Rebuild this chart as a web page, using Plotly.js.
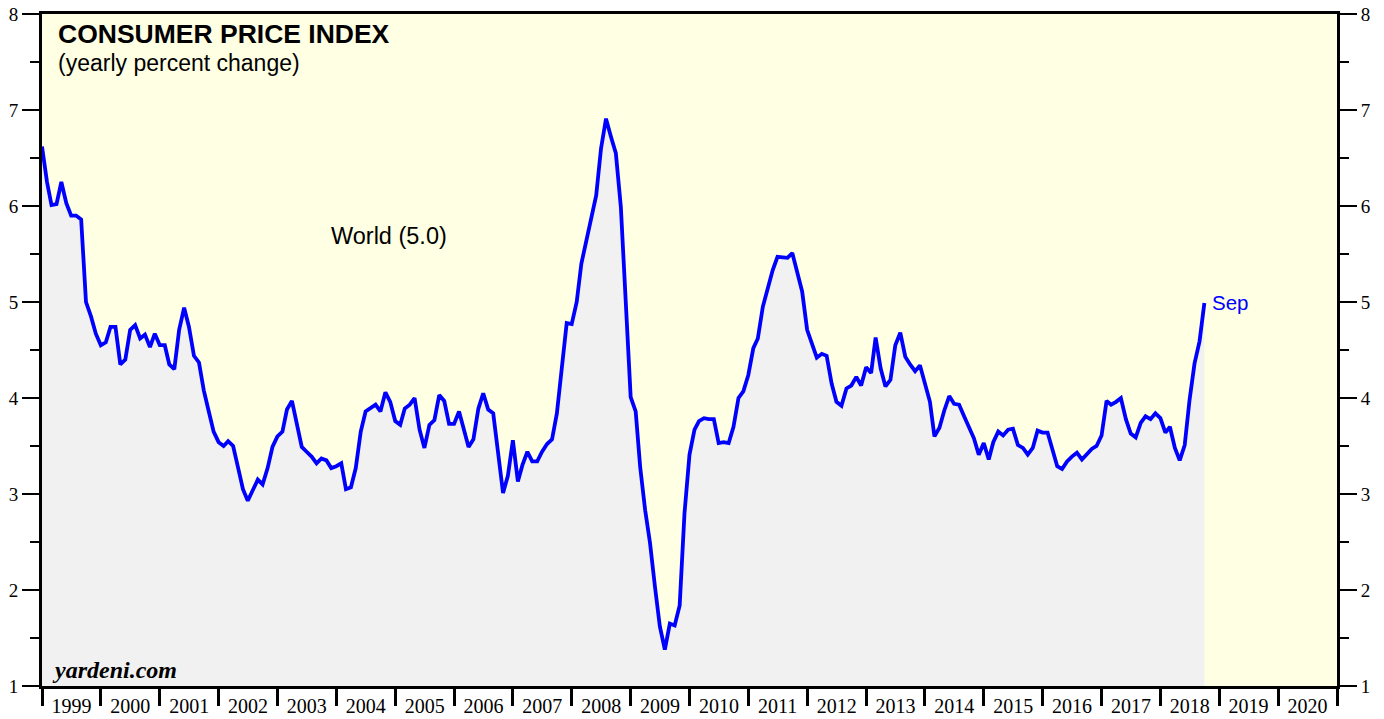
<!DOCTYPE html>
<html>
<head>
<meta charset="utf-8">
<script src="https://cdn.plot.ly/plotly-3.0.1.min.js"></script>
<style>
  html, body { margin: 0; padding: 0; background: #ffffff; }
  #chart { width: 1384px; height: 719px; }
</style>
</head>
<body>
<div id="chart"></div>
<script>
// Monthly series start (first point plotted at this date) — one point per month
const startYear = 1999;
const startMonth = 1;

// World CPI, yearly percent change
const worldCPI = [
  6.62, 6.25, 6.01, 6.02, 6.25, 6.03, 5.90, 5.90, 5.86, 5.00, 4.85, 4.67,
  4.55, 4.58, 4.74, 4.74, 4.35, 4.40, 4.71, 4.76, 4.62, 4.66, 4.53, 4.67,
  4.55, 4.55, 4.35, 4.30, 4.71, 4.94, 4.74, 4.44, 4.37, 4.08, 3.86, 3.65,
  3.54, 3.50, 3.55, 3.50, 3.28, 3.05, 2.93, 3.04, 3.15, 3.10, 3.27, 3.49,
  3.60, 3.65, 3.88, 3.97, 3.74, 3.49, 3.44, 3.39, 3.32, 3.37, 3.35, 3.27,
  3.29, 3.32, 3.05, 3.07, 3.27, 3.65, 3.86, 3.90, 3.93, 3.86, 4.06, 3.96,
  3.76, 3.72, 3.89, 3.93, 4.00, 3.67, 3.48, 3.72, 3.77, 4.03, 3.97, 3.73,
  3.73, 3.86, 3.67, 3.49, 3.57, 3.89, 4.05, 3.88, 3.84, 3.39, 3.01, 3.19,
  3.56, 3.13, 3.30, 3.44, 3.34, 3.34, 3.44, 3.52, 3.57, 3.84, 4.33, 4.78,
  4.77, 5.00, 5.40, 5.63, 5.84, 6.11, 6.60, 6.91, 6.72, 6.55, 5.99, 4.95,
  4.01, 3.86, 3.28, 2.83, 2.49, 2.03, 1.62, 1.38, 1.65, 1.63, 1.84, 2.80,
  3.41, 3.67, 3.76, 3.79, 3.78, 3.78, 3.53, 3.54, 3.53, 3.70, 4.00, 4.07,
  4.24, 4.52, 4.62, 4.95, 5.14, 5.33, 5.47, 5.46, 5.46, 5.51, 5.32, 5.11,
  4.71, 4.57, 4.42, 4.46, 4.44, 4.15, 3.96, 3.92, 4.10, 4.13, 4.22, 4.13,
  4.32, 4.26, 4.63, 4.31, 4.12, 4.19, 4.55, 4.68, 4.43, 4.35, 4.28, 4.34,
  4.15, 3.96, 3.60, 3.69, 3.87, 4.02, 3.94, 3.93, 3.81, 3.70, 3.58, 3.41,
  3.53, 3.36, 3.54, 3.65, 3.61, 3.67, 3.68, 3.51, 3.48, 3.41, 3.48, 3.66,
  3.64, 3.64, 3.46, 3.29, 3.26, 3.34, 3.39, 3.43, 3.36, 3.42, 3.47, 3.50,
  3.61, 3.97, 3.93, 3.96, 4.00, 3.78, 3.63, 3.59, 3.74, 3.81, 3.78, 3.84,
  3.79, 3.64, 3.70, 3.48, 3.35, 3.51, 3.98, 4.36, 4.59, 4.99
];

const seriesName = "World (5.0)";
const lastLabel = "Sep";
const titleText = "<b>CONSUMER PRICE INDEX</b>";
const subtitleText = "(yearly percent change)";
const sourceText = "<b><i>yardeni.com</i></b>";

const xStart = "1999-01-01";
const xEnd = "2021-01-01";
const yRange = [1, 8];

function monthDate(i) {
  const total = (startMonth - 1) + i;
  const y = startYear + Math.floor(total / 12);
  const m = (total % 12) + 1;
  return y + "-" + String(m).padStart(2, "0") + "-01";
}
const dates = worldCPI.map((_, i) => monthDate(i));

const lineTrace = {
  x: dates,
  y: worldCPI,
  type: "scatter",
  mode: "lines",
  line: { color: "#0000ff", width: 3.8 },
  fill: "tozeroy",
  fillcolor: "#f1f1f1",
  hoverinfo: "skip",
  showlegend: false
};

// invisible helper so the right-hand axis is drawn
const rightAxisTrace = {
  x: [dates[0]],
  y: [worldCPI[0]],
  type: "scatter",
  mode: "none",
  yaxis: "y2",
  hoverinfo: "skip",
  showlegend: false
};

const tickFontY = { family: "Liberation Serif, Times New Roman, serif", size: 19, color: "#000" };
const tickFontX = { family: "Liberation Serif, Times New Roman, serif", size: 20, color: "#000" };

const yCommon = {
  range: yRange,
  autorange: false,
  dtick: 1,
  tick0: 0,
  ticks: "outside",
  ticklen: 17,
  tickwidth: 1.5,
  tickcolor: "#000",
  showgrid: false,
  zeroline: false,
  showline: true,
  linewidth: 3,
  linecolor: "#000",
  tickfont: tickFontY,
  minor: { dtick: 0.5, ticks: "outside", ticklen: 9, tickwidth: 1.5, tickcolor: "#000", showgrid: false },
  fixedrange: true
};

const layout = {
  width: 1384,
  height: 719,
  margin: { l: 42, r: 47, t: 14, b: 33 },
  paper_bgcolor: "#ffffff",
  plot_bgcolor: "#ffffe3",
  showlegend: false,
  xaxis: {
    type: "date",
    range: [xStart, xEnd],
    autorange: false,
    tick0: xStart,
    dtick: "M12",
    tickformat: "%Y",
    ticklabelmode: "period",
    ticks: "outside",
    ticklen: 17,
    tickwidth: 3,
    tickcolor: "#000",
    ticklabelstandoff: -17,
    showgrid: false,
    zeroline: false,
    showline: true,
    linewidth: 3,
    linecolor: "#000",
    mirror: true,
    tickfont: tickFontX,
    fixedrange: true
  },
  yaxis: Object.assign({}, yCommon, { side: "left" }),
  yaxis2: Object.assign({}, yCommon, { side: "right", overlaying: "y", anchor: "x" }),
  annotations: [
    {
      xref: "paper", yref: "paper", x: 0.0108, y: 0.970,
      xanchor: "left", yanchor: "middle", showarrow: false,
      text: titleText,
      font: { family: "Liberation Sans, Arial, sans-serif", size: 26.5, color: "#000" }
    },
    {
      xref: "paper", yref: "paper", x: 0.0108, y: 0.927,
      xanchor: "left", yanchor: "middle", showarrow: false,
      text: subtitleText,
      font: { family: "Liberation Sans, Arial, sans-serif", size: 23, color: "#000" }
    },
    {
      xref: "paper", yref: "paper", x: 0.268, y: 0.67,
      xanchor: "center", yanchor: "middle", showarrow: false,
      text: seriesName,
      font: { family: "Liberation Sans, Arial, sans-serif", size: 23.5, color: "#000" }
    },
    {
      xref: "x", yref: "y", x: dates[dates.length - 1], y: worldCPI[worldCPI.length - 1],
      xanchor: "left", yanchor: "middle", xshift: 6, showarrow: false,
      text: lastLabel,
      font: { family: "Liberation Sans, Arial, sans-serif", size: 20.5, color: "#0000ff" }
    },
    {
      xref: "paper", yref: "paper", x: 0.0065, y: 0.024,
      xanchor: "left", yanchor: "middle", showarrow: false,
      text: sourceText,
      font: { family: "Liberation Serif, Times New Roman, serif", size: 24, color: "#000" }
    }
  ]
};

Plotly.newPlot("chart", [lineTrace, rightAxisTrace], layout, { staticPlot: true, displayModeBar: false });
</script>
</body>
</html>
